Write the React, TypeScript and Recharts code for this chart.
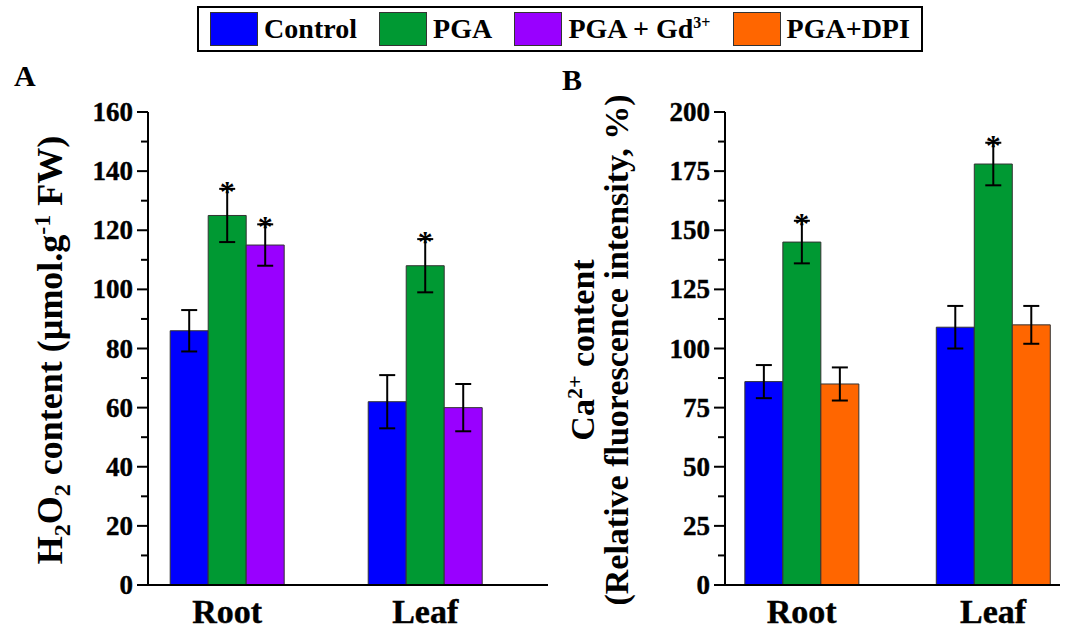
import React from 'react'
import { BarChart, Bar, XAxis, YAxis, ErrorBar, LabelList } from 'recharts'

const positions = [1, 2]
const categories = ['Root', 'Leaf']

const h2o2Control = [86, 62]
const h2o2ControlErr = [7, 9]
const h2o2Pga = [125, 108]
const h2o2PgaErr = [9, 9]
const h2o2Gd = [115, 60]
const h2o2GdErr = [7, 8]
const h2o2Sig = [[false, false], [true, true], [true, false]]

const caControl = [86, 109]
const caControlErr = [7, 9]
const caPga = [145, 178]
const caPgaErr = [9, 9]
const caDpi = [85, 110]
const caDpiErr = [7, 8]
const caSig = [[false, false], [true, true], [false, false]]

const ticksA = [0, 10, 20, 30, 40, 50, 60, 70, 80, 90, 100, 110, 120, 130, 140, 150, 160]
const ticksB = [0, 12.5, 25, 37.5, 50, 62.5, 75, 87.5, 100, 112.5, 125, 137.5, 150, 162.5, 175, 187.5, 200]

const BLUE = '#0000FF'
const GREEN = '#009933'
const PURPLE = '#9900FF'
const ORANGE = '#FF6600'
const FONT = '"Liberation Serif", "Times New Roman", serif'

const dataA = positions.map((x, i) => ({
  x, c: h2o2Control[i], ce: h2o2ControlErr[i], p: h2o2Pga[i], pe: h2o2PgaErr[i], g: h2o2Gd[i], ge: h2o2GdErr[i],
  s0: h2o2Sig[0][i], s1: h2o2Sig[1][i], s2: h2o2Sig[2][i],
}))
const dataB = positions.map((x, i) => ({
  x, c: caControl[i], ce: caControlErr[i], p: caPga[i], pe: caPgaErr[i], g: caDpi[i], ge: caDpiErr[i],
  s0: caSig[0][i], s1: caSig[1][i], s2: caSig[2][i],
}))

const makeTick = (major: number) => (props: any) => {
  const { x, y, payload } = props
  const v = payload.value
  const isMajor = Math.abs(v / major - Math.round(v / major)) < 1e-6
  return (
    <g>
      <line x1={x - (isMajor ? 11 : 7)} x2={x} y1={y} y2={y} stroke="#000" strokeWidth={2} />
      {isMajor && (
        <text x={x - 15} y={y + 9} textAnchor="end" fontFamily={FONT} fontWeight="bold" fontSize={27}
          fill="#000" stroke="#000" strokeWidth={0.4}>{v}</text>
      )}
    </g>
  )
}

const catTick = (props: any) => {
  const { x, y, payload } = props
  return (
    <text x={x} y={y + 30} textAnchor="middle" fontFamily={FONT} fontWeight="bold" fontSize={34}
      fill="#000" stroke="#000" strokeWidth={0.4}>
      {categories[Math.round(payload.value) - 1]}
    </text>
  )
}

const star = (data: any[], vKey: string, eKey: string, sKey: string) => (props: any) => {
  const { x, y, width, height, index } = props
  const d = data[index]
  if (!d || !d[sKey]) return null
  const errPx = (d[eKey] * height) / d[vKey]
  return (
    <text x={x + width / 2} y={y - errPx + 12} textAnchor="middle" fontFamily={FONT} fontWeight="bold" fontSize={30} fill="#000">*</text>
  )
}

function Panel({ data, colors, ticks, major, domain, xDomain, left, width }: any) {
  const keys = [['c', 'ce', 's0'], ['p', 'pe', 's1'], ['g', 'ge', 's2']]
  return (
    <BarChart width={width} height={633} data={data} barGap={0}
      margin={{ top: 112, bottom: 0, left: left - 60, right: 12 }}
      style={{ position: 'absolute', left: 0, top: 0 }}>
      <XAxis dataKey="x" type="number" domain={xDomain} ticks={positions} tick={catTick}
        tickLine={false} axisLine={{ stroke: '#000', strokeWidth: 2 }} height={48} allowDataOverflow />
      <YAxis domain={domain} ticks={ticks} interval={0} width={60} tickSize={0} tickMargin={0}
        tick={makeTick(major)} axisLine={{ stroke: '#000', strokeWidth: 2 }} />
      {keys.map(([v, e, s], i) => (
        <Bar key={v} dataKey={v} fill={colors[i]} stroke="#333" strokeWidth={1} barSize={38} isAnimationActive={false}>
          <ErrorBar dataKey={e} width={8} stroke="#000" strokeWidth={2} />
          <LabelList dataKey={v} content={star(data, v, e, s)} />
        </Bar>
      ))}
    </BarChart>
  )
}

export default function App() {
  const legend = [['Control', BLUE], ['PGA', GREEN], ['PGA + Gd', PURPLE], ['PGA+DPI', ORANGE]]
  return (
    <div style={{ position: 'absolute', left: 0, top: 0, width: 1072, height: 633, background: '#fff', fontFamily: FONT }}>
      <div style={{ position: 'absolute', left: 197, top: 6, width: 722, height: 42, border: '2px solid #000',
        display: 'flex', alignItems: 'center', justifyContent: 'space-around', fontWeight: 'bold', fontSize: 28 }}>
        {legend.map(([name, col]) => (
          <div key={name} style={{ display: 'flex', alignItems: 'center' }}>
            <div style={{ width: 46, height: 32, background: col, border: '1px solid #333', marginRight: 6 }} />
            <span>{name}{name === 'PGA + Gd' && <sup style={{ fontSize: 16 }}>3+</sup>}</span>
          </div>
        ))}
      </div>
      <Panel data={dataA} colors={[BLUE, GREEN, PURPLE]} ticks={ticksA} major={20} domain={[0, 160]}
        xDomain={[0.6, 2.62]} left={148} width={560} />
      <Panel data={dataB} colors={[BLUE, GREEN, ORANGE]} ticks={ticksB} major={25} domain={[0, 200]}
        xDomain={[0.6, 2.35]} left={725} width={1072} />
      <svg width={1072} height={633} style={{ position: 'absolute', left: 0, top: 0, pointerEvents: 'none' }}>
        <text x={14} y={86} fontFamily={FONT} fontWeight="bold" fontSize={30}>A</text>
        <text x={562} y={90} fontFamily={FONT} fontWeight="bold" fontSize={30}>B</text>
        <text transform="translate(62,350) rotate(-90)" textAnchor="middle" fontFamily={FONT} fontWeight="bold" fontSize={36}>
          H<tspan fontSize={24} dy={8}>2</tspan><tspan dy={-8}>O</tspan><tspan fontSize={24} dy={8}>2</tspan>
          <tspan dy={-8}> content (µmol.g</tspan><tspan fontSize={24} dy={-12}>-1</tspan><tspan dy={12}> FW)</tspan>
        </text>
        <text transform="translate(594,350) rotate(-90)" textAnchor="middle" fontFamily={FONT} fontWeight="bold" fontSize={34}>
          Ca<tspan fontSize={22} dy={-12}>2+</tspan><tspan dy={12}> content</tspan>
        </text>
        <text transform="translate(628,350) rotate(-90)" textAnchor="middle" fontFamily={FONT} fontWeight="bold" fontSize={34}>
          (Relative fluorescence intensity, %)
        </text>
      </svg>
    </div>
  )
}
